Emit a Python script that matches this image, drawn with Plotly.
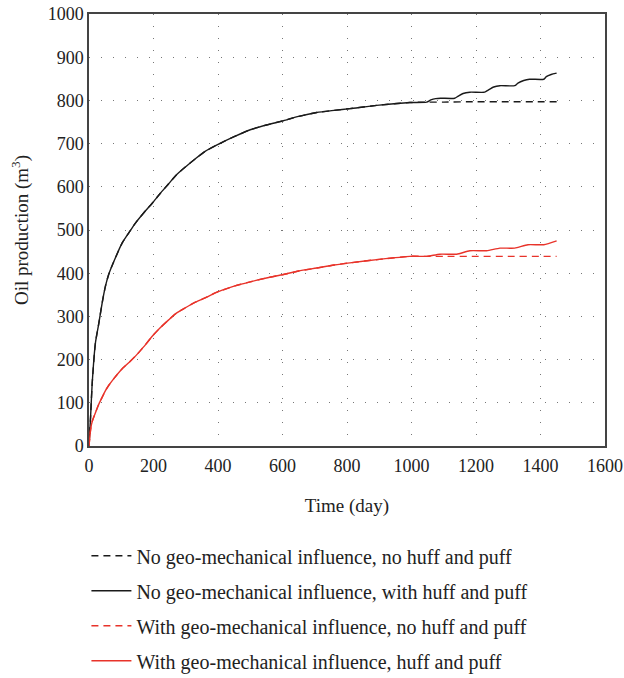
import plotly.graph_objects as go

# ---- data ----
base_days = [0, 5, 10, 20, 30, 41, 51, 61, 77, 103, 125, 144, 170, 196, 220, 247, 270, 299,
             330, 360, 397, 450, 500, 550, 603, 650, 706, 760, 809, 900, 995, 1047]
black_base = [0, 69, 146, 239, 282, 332, 370, 397, 427, 470, 495, 516, 540, 562, 584, 607,
              627, 646, 665, 682, 697, 716, 732, 743, 753, 763, 772, 777, 781, 789, 795, 796]
red_base = [0, 38, 57, 77, 96, 113, 128, 140, 156, 179, 194, 208, 230, 254, 273, 292, 307,
            320, 333, 343, 356, 370, 380, 389, 397, 405, 412, 419, 424, 432, 439, 439]

flat_days = [1100, 1200, 1300, 1400, 1450]
black_flat = [796, 797, 797, 797, 797]
red_flat = [439, 439, 439, 439, 439]

black_huff_days = [1060, 1075, 1090, 1134, 1145, 1160, 1181, 1227, 1238, 1255, 1274, 1320,
                   1330, 1348, 1366, 1410, 1418, 1433, 1450]
black_huff = [801, 804, 805, 805, 810, 816, 819, 819, 824, 831, 834, 834, 840, 846, 849,
              849, 855, 860, 863]

red_huff_days = [1088, 1140, 1181, 1233, 1274, 1320, 1361, 1410, 1450]
red_huff = [444, 444, 452, 452, 458, 458, 466, 466, 475]

names = ["No geo-mechanical influence, no huff and puff",
         "No geo-mechanical influence, with huff and puff",
         "With geo-mechanical influence, no huff and puff",
         "With geo-mechanical influence, huff and puff"]

x_ticks = [0, 200, 400, 600, 800, 1000, 1200, 1400, 1600]
y_ticks = [0, 100, 200, 300, 400, 500, 600, 700, 800, 900, 1000]

BLACK = "#1a1a1a"
RED = "#e8332a"
FONT = "Liberation Serif"
DASH = "7px,5px"

fig = go.Figure()
fig.add_trace(go.Scatter(x=base_days + flat_days, y=black_base + black_flat, mode="lines",
                         name=names[0], legendgroup="a",
                         line=dict(color=BLACK, width=1.4, dash=DASH, shape="spline", smoothing=0.6)))
fig.add_trace(go.Scatter(x=base_days + black_huff_days, y=black_base + black_huff, mode="lines",
                         name=names[1], legendgroup="b",
                         line=dict(color=BLACK, width=1.4, shape="spline", smoothing=0.6)))
fig.add_trace(go.Scatter(x=base_days + flat_days, y=red_base + red_flat, mode="lines",
                         name=names[2], legendgroup="c",
                         line=dict(color=RED, width=1.4, dash=DASH, shape="spline", smoothing=0.6)))
fig.add_trace(go.Scatter(x=base_days + red_huff_days, y=red_base + red_huff, mode="lines",
                         name=names[3], legendgroup="d",
                         line=dict(color=RED, width=1.4, shape="spline", smoothing=0.6)))

fig.update_layout(
    width=624, height=678,
    margin=dict(l=89, r=19, t=14, b=232),
    paper_bgcolor="white", plot_bgcolor="white",
    font=dict(family=FONT, size=18, color="#222"),
    showlegend=True,
    legend=dict(x=-0.005, y=0.209, xanchor="left", yanchor="top", yref="container",
                font=dict(family=FONT, size=20, color="#222"),
                itemwidth=40,
                tracegroupgap=6, bgcolor="rgba(0,0,0,0)"),
    xaxis=dict(range=[0, 1600], tickvals=x_ticks, ticktext=[str(v) for v in x_ticks],
               showgrid=True, gridcolor="#777", griddash="1px,11px", gridwidth=1,
               showline=True, linecolor="#444", linewidth=1.5, mirror=True,
               ticks="", zeroline=False, automargin=False, ticklabelstandoff=3,
               title=dict(text="Time (day)", font=dict(family=FONT, size=19), standoff=23),
               tickfont=dict(family=FONT, size=18)),
    yaxis=dict(range=[0, 1000], tickvals=y_ticks, ticktext=[str(v) for v in y_ticks],
               showgrid=True, gridcolor="#777", griddash="1px,11px", gridwidth=1,
               showline=True, linecolor="#444", linewidth=1.5, mirror=True,
               ticks="", zeroline=False, automargin=False,
               title=dict(text="Oil production (m<sup>3</sup>)", font=dict(family=FONT, size=19),
                          standoff=14),
               tickfont=dict(family=FONT, size=18)),
)

fig.write_html("out.html")
